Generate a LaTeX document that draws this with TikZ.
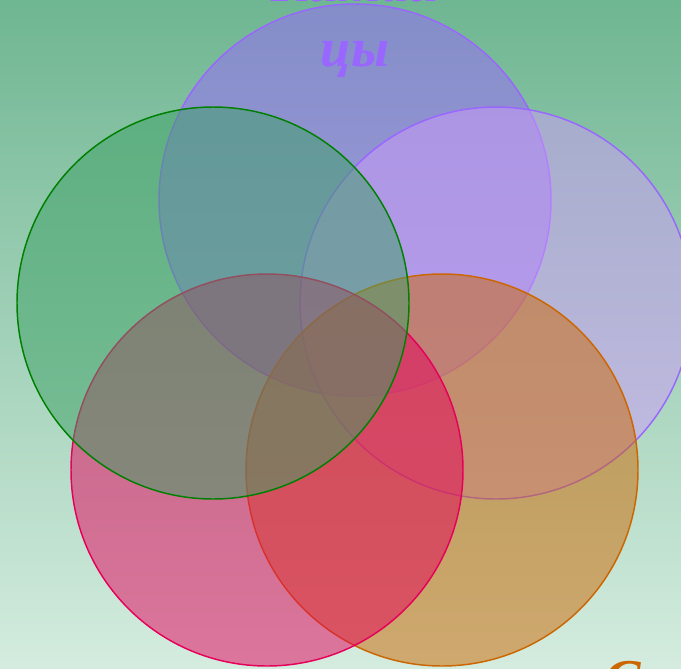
\documentclass[tikz,border=0pt]{standalone}
\usepackage{fontspec}
\setmainfont{Liberation Serif}
\usepackage{tikz}
\usetikzlibrary{positioning}

\definecolor{bgtop}{RGB}{111,182,146}
\definecolor{bgbot}{RGB}{212,236,223}
\definecolor{lilac}{RGB}{153,102,255}
\definecolor{lavender}{RGB}{205,155,250}
\definecolor{leaf}{RGB}{60,160,100}
\definecolor{grass}{RGB}{0,128,0}
\definecolor{crimson}{RGB}{230,0,90}
\definecolor{amber}{RGB}{204,102,0}

\begin{document}
\begin{tikzpicture}[
  x=0.75pt, y=-0.75pt,
  ring/.style={circle, minimum size=294pt, inner sep=0pt, line width=1.1pt, fill opacity=0.5},
  lab/.style={font=\fontsize{41}{49}\selectfont\bfseries\itshape, align=center, inner sep=0pt}
]
  % background
  \shade[top color=bgtop, bottom color=bgbot] (0,0) rectangle (681,668);
  \useasboundingbox (0,0) rectangle (681,668);
  \clip (0,0) rectangle (681,668);

  % circles
  \node[ring, draw=lilac, fill=lilac] (top) at (355,200) {};
  \node[ring, draw=lilac, fill=lavender] (right) at (496,303) {};
  \node[ring, draw=amber, fill=amber] (lowright) at (442,470) {};
  \node[ring, draw=crimson, fill=crimson] (lowleft) at (267,470) {};
  \node[ring, draw=grass, fill=leaf] (left) at (213,303) {};

  % labels
  \node[lab, text=lilac, anchor=south] (toplab) at (355,78) {Китай\\цы};
  \node[lab, text=amber, anchor=base west] (lowrightlab) at (604,697) {С};
\end{tikzpicture}
\end{document}
